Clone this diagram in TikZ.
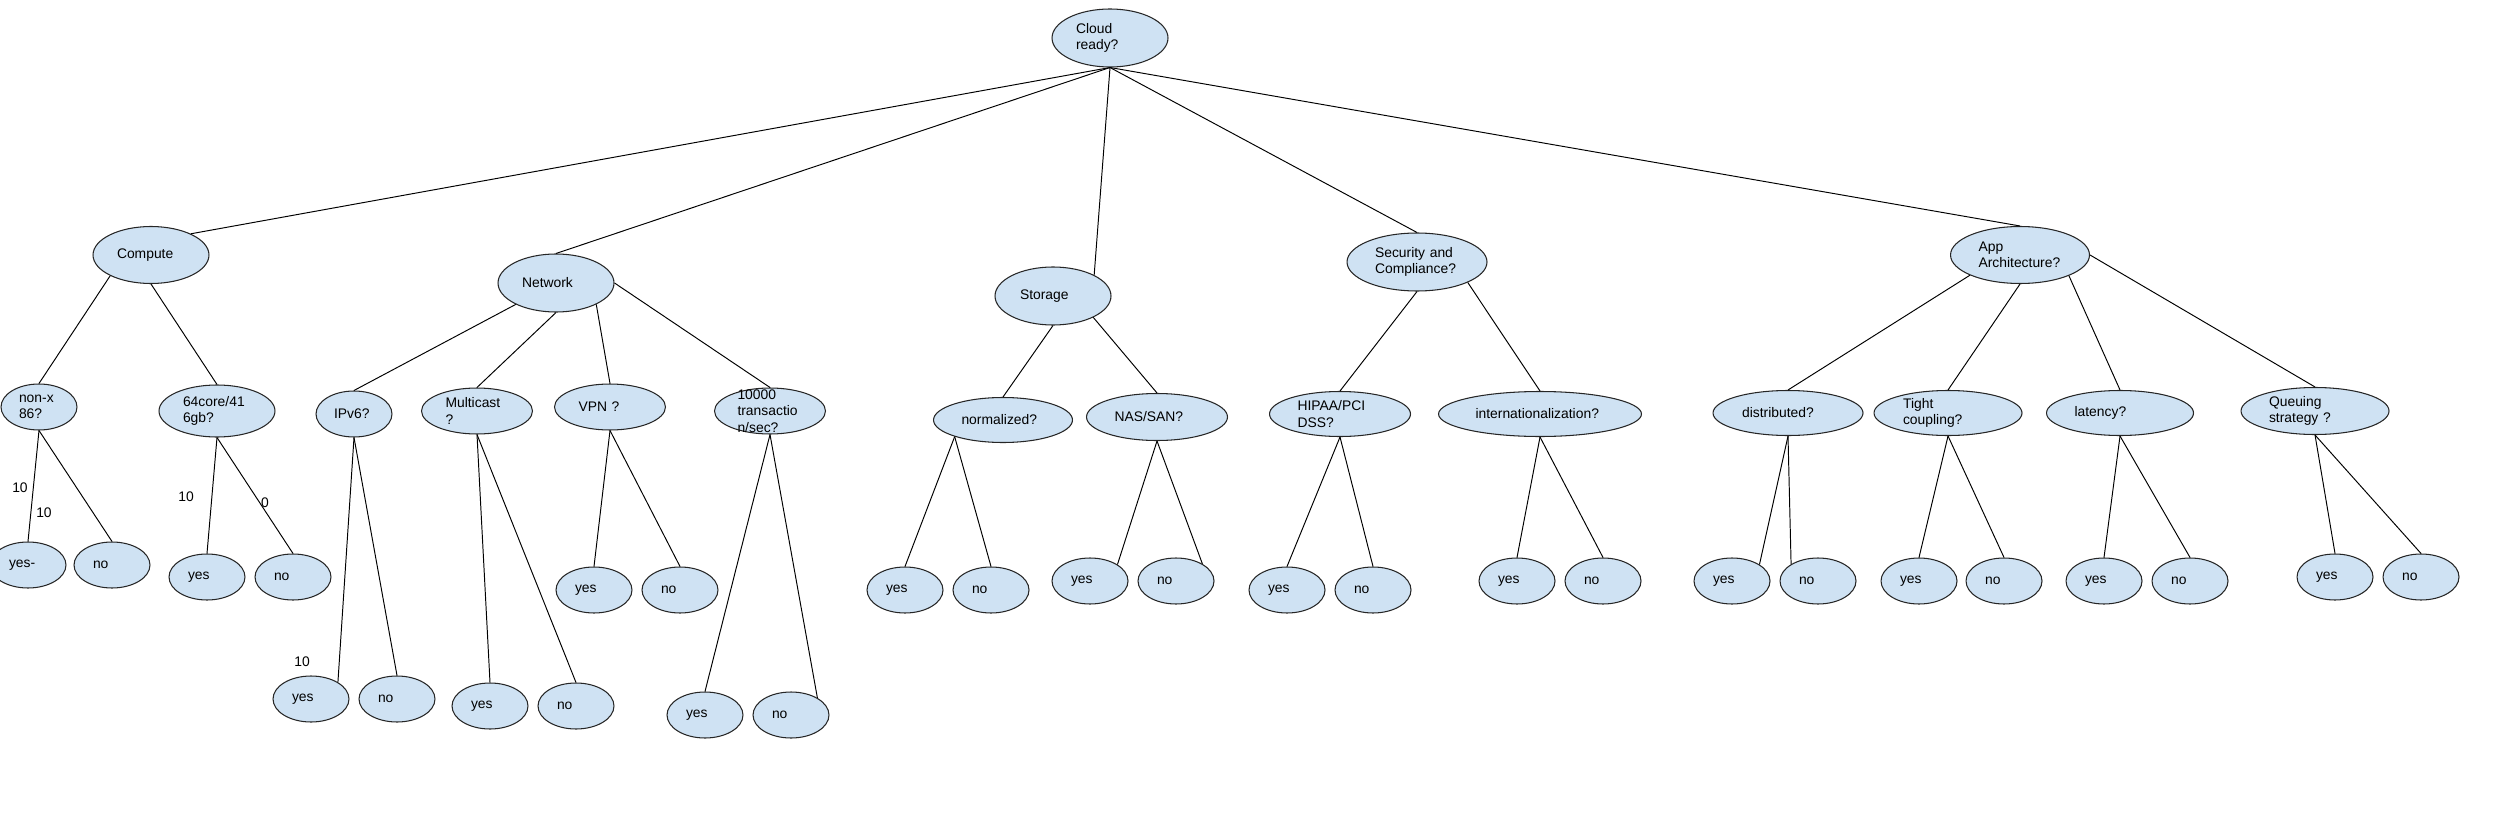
\documentclass[tikz,border=0pt]{standalone}
\usepackage{fontspec}
\setmainfont{Liberation Sans}
\usepackage{tikz}
\usetikzlibrary{shapes}
\definecolor{leafblue}{HTML}{CFE2F3}
\newcommand{\nodefont}{\fontsize{7.9pt}{9.4pt}\selectfont}
\hyphenpenalty=10000
\exhyphenpenalty=10000
\tikzset{
	dec/.style n args={3}{ellipse, draw=black!85, line width=0.6pt, fill=leafblue, minimum width=#1, minimum height=#2, text width=#3, align=left, inner sep=0pt, font=\nodefont},
	leaf/.style={dec={1.52cm}{0.92cm}{0.76cm}},
	branch/.style={line width=0.55pt},
	score/.style={font=\nodefont, inner sep=0pt}
}

\begin{document}
\begin{tikzpicture}[x=0.02cm, y=-0.02cm]
		\useasboundingbox (0,0) rectangle (2500,824);
		\node at (1110,38) [dec={2.32cm}{1.16cm}{1.36cm}] (cloud) {Cloud\\ready?};

		\node at (151,255) [dec={2.32cm}{1.14cm}{1.36cm}] (comp) {Compute};
		\node at (556,283) [dec={2.32cm}{1.16cm}{1.36cm}] (net) {Network};
		\node at (1053,296) [dec={2.32cm}{1.16cm}{1.32cm}] (stor) {Storage};
		\node at (1417,262) [dec={2.8cm}{1.16cm}{1.68cm}] (sec) {Security and\\Compliance?};
		\node at (2020,255) [dec={2.78cm}{1.14cm}{1.66cm}] (app) {App\\Architecture?};

		\node at (39,407) [dec={1.52cm}{0.92cm}{0.8cm}] (nonx) {non-x\\86?};
		\node at (217,411) [dec={2.32cm}{1.04cm}{1.36cm}] (core) {64core/41\\6gb?};
		\node at (354,414) [dec={1.52cm}{0.92cm}{0.8cm}] (ipv6) {IPv6?};
		\node at (477,411) [dec={2.22cm}{0.92cm}{1.26cm}] (mcast) {Multicast\\?};
		\node at (610,407) [dec={2.22cm}{0.92cm}{1.26cm}] (vpn) {VPN ?};
		\node at (770,411) [dec={2.22cm}{0.92cm}{1.3cm}, inner ysep=-4pt] (tps) {10000\\transactio\\n/sec?};
		\node at (1003,420) [dec={2.78cm}{0.9cm}{1.66cm}] (norm) {normalized?};
		\node at (1157,417) [dec={2.82cm}{0.94cm}{1.7cm}] (nas) {NAS/SAN?};
		\node at (1340,414) [dec={2.82cm}{0.9cm}{1.7cm}] (hipaa) {HIPAA/PCI\\DSS?};
		\node at (1540,414) [dec={4.06cm}{0.9cm}{2.58cm}] (intl) {internationalization?};
		\node at (1788,413) [dec={3.0cm}{0.9cm}{1.84cm}] (dist) {distributed?};
		\node at (1948,413) [dec={2.96cm}{0.9cm}{1.8cm}] (tight) {Tight\\coupling?};
		\node at (2120,413) [dec={2.94cm}{0.9cm}{1.82cm}] (lat) {latency?};
		\node at (2315,411) [dec={2.96cm}{0.94cm}{1.84cm}] (queue) {Queuing\\strategy ?};

		\node at (28,565) [leaf] (nonxY) {yes-};
		\node at (112,565) [leaf] (nonxN) {no};
		\node at (207,577) [leaf] (coreY) {yes};
		\node at (293,577) [leaf] (coreN) {no};
		\node at (311,699) [leaf] (ipv6Y) {yes};
		\node at (397,699) [leaf] (ipv6N) {no};
		\node at (490,706) [leaf] (mcastY) {yes};
		\node at (576,706) [leaf] (mcastN) {no};
		\node at (594,590) [leaf] (vpnY) {yes};
		\node at (680,590) [leaf] (vpnN) {no};
		\node at (705,715) [leaf] (tpsY) {yes};
		\node at (791,715) [leaf] (tpsN) {no};
		\node at (905,590) [leaf] (normY) {yes};
		\node at (991,590) [leaf] (normN) {no};
		\node at (1090,581) [leaf] (nasY) {yes};
		\node at (1176,581) [leaf] (nasN) {no};
		\node at (1287,590) [leaf] (hipaaY) {yes};
		\node at (1373,590) [leaf] (hipaaN) {no};
		\node at (1517,581) [leaf] (intlY) {yes};
		\node at (1603,581) [leaf] (intlN) {no};
		\node at (1732,581) [leaf] (distY) {yes};
		\node at (1818,581) [leaf] (distN) {no};
		\node at (1919,581) [leaf] (tightY) {yes};
		\node at (2004,581) [leaf] (tightN) {no};
		\node at (2104,581) [leaf] (latY) {yes};
		\node at (2190,581) [leaf] (latN) {no};
		\node at (2335,577) [leaf] (queueY) {yes};
		\node at (2421,577) [leaf] (queueN) {no};

		\node at (20,488) [score] (w1) {10};
		\node at (44,513) [score] (w2) {10};
		\node at (186,497) [score] (w3) {10};
		\node at (265,503) [score] (w4) {0};
		\node at (302,662) [score] (w5) {10};

		\draw[branch] (cloud.south) -- (comp.28);
		\draw[branch] (cloud.south) -- (net.north);
		\draw[branch] (cloud.south) -- (stor.27);
		\draw[branch] (cloud.south) -- (sec.north);
		\draw[branch] (cloud.south) -- (app.north);

		\draw[branch] (comp.207) -- (nonx.north);
		\draw[branch] (comp.south) -- (core.north);
		\draw[branch] (nonx.south) -- (nonxY.north);
		\draw[branch] (nonx.south) -- (nonxN.north);
		\draw[branch] (core.south) -- (coreY.north);
		\draw[branch] (core.south) -- (coreN.north);

		\draw[branch] (net.208) -- (ipv6.north);
		\draw[branch] (net.south) -- (mcast.north);
		\draw[branch] (net.-28) -- (vpn.north);
		\draw[branch] (net.east) -- (tps.north);
		\draw[branch] (ipv6.south) -- (ipv6Y.32);
		\draw[branch] (ipv6.south) -- (ipv6N.north);
		\draw[branch] (mcast.south) -- (mcastY.north);
		\draw[branch] (mcast.south) -- (mcastN.north);
		\draw[branch] (vpn.south) -- (vpnY.north);
		\draw[branch] (vpn.south) -- (vpnN.north);
		\draw[branch] (tps.south) -- (tpsY.north);
		\draw[branch] (tps.south) -- (tpsN.33);

		\draw[branch] (stor.south) -- (norm.north);
		\draw[branch] (stor.-28) -- (nas.north);
		\draw[branch] (norm.199) -- (normY.north);
		\draw[branch] (norm.199) -- (normN.north);
		\draw[branch] (nas.south) -- (nasY.31);
		\draw[branch] (nas.south) -- (nasN.33);

		\draw[branch] (sec.south) -- (hipaa.north);
		\draw[branch] (sec.-22) -- (intl.north);
		\draw[branch] (hipaa.south) -- (hipaaY.north);
		\draw[branch] (hipaa.south) -- (hipaaN.north);
		\draw[branch] (intl.south) -- (intlY.north);
		\draw[branch] (intl.south) -- (intlN.north);

		\draw[branch] (app.202) -- (dist.north);
		\draw[branch] (app.south) -- (tight.north);
		\draw[branch] (app.-23) -- (lat.north);
		\draw[branch] (app.east) -- (queue.north);
		\draw[branch] (dist.south) -- (distY.31);
		\draw[branch] (dist.south) -- (distN.148);
		\draw[branch] (tight.south) -- (tightY.north);
		\draw[branch] (tight.south) -- (tightN.north);
		\draw[branch] (lat.south) -- (latY.north);
		\draw[branch] (lat.south) -- (latN.north);
		\draw[branch] (queue.south) -- (queueY.north);
		\draw[branch] (queue.south) -- (queueN.north);
\end{tikzpicture}
\end{document}
